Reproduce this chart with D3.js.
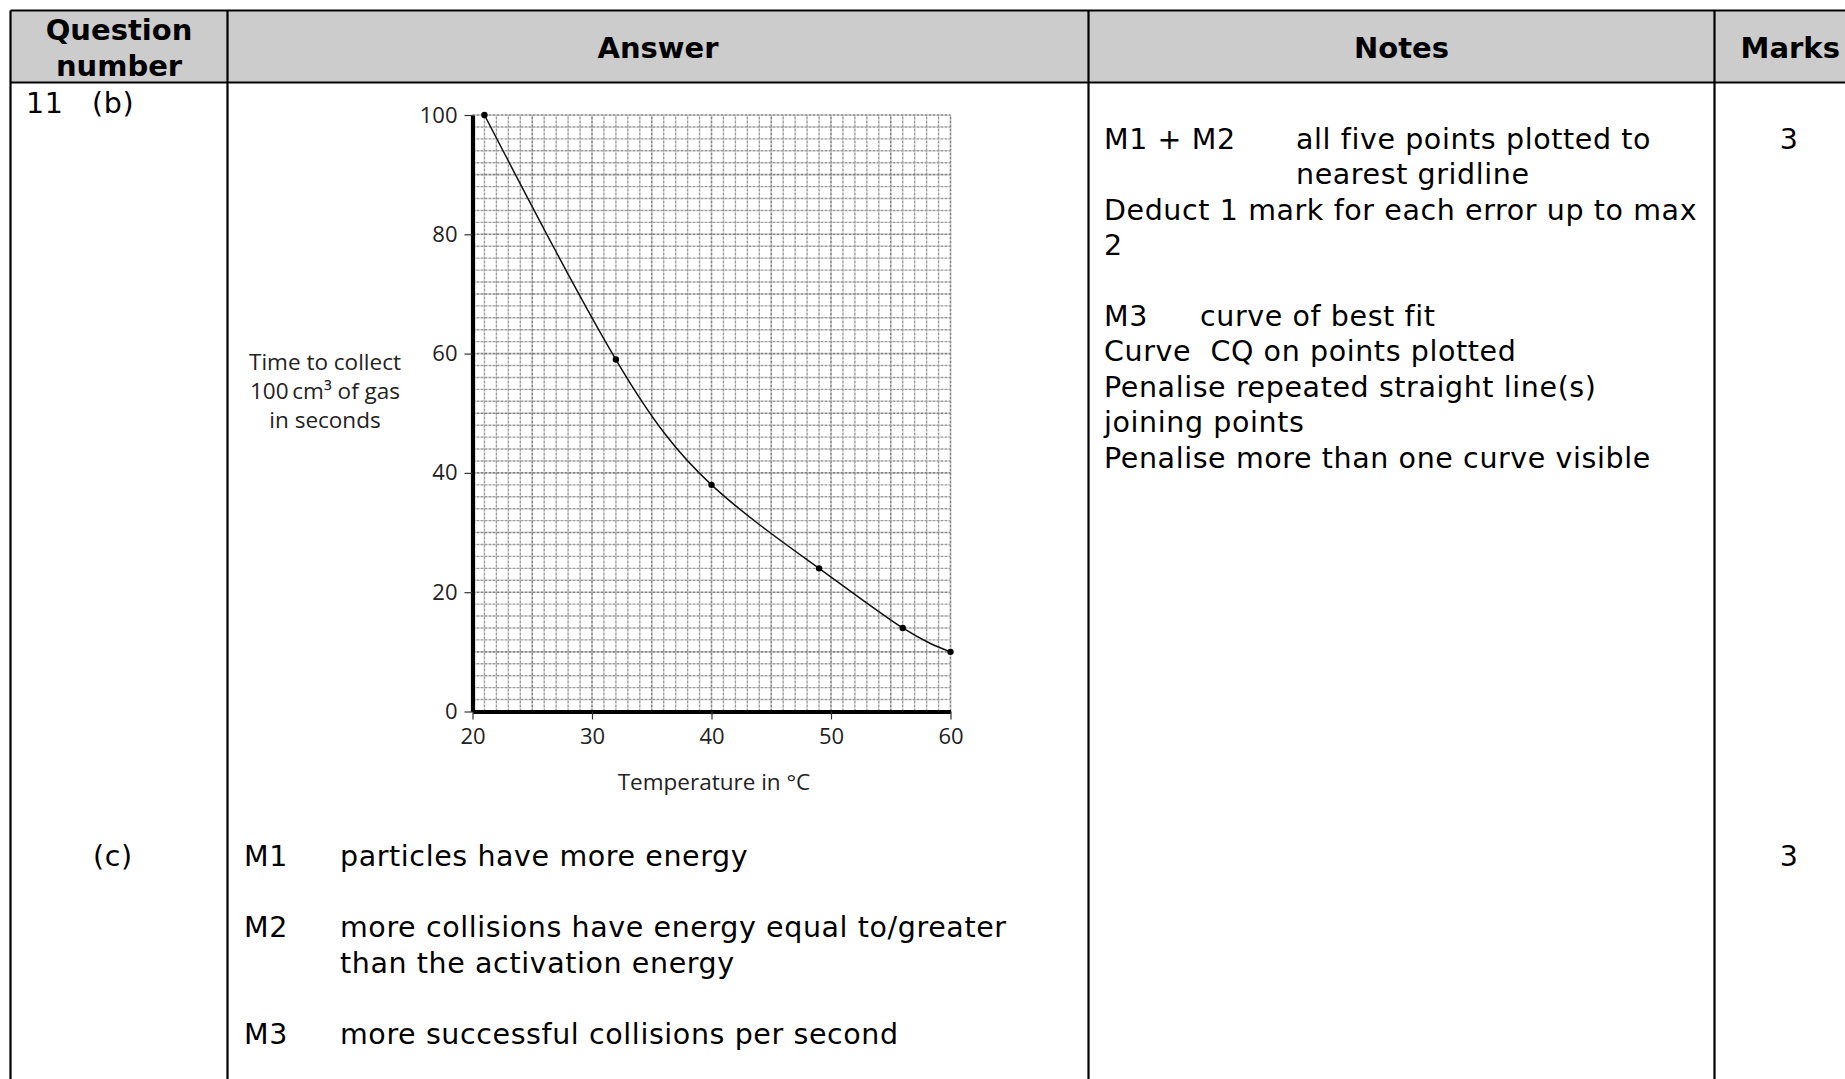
<!DOCTYPE html>
<html>
<head>
<meta charset="utf-8">
<script src="https://cdn.jsdelivr.net/npm/d3@7"></script>
<style>
  html, body { margin: 0; padding: 0; background: #fff; }
  svg { display: block; }
</style>
</head>
<body>
<script>
// ---------- DATA ----------
const temperatures = [21, 32, 40, 49, 56, 60];
const times = [100, 59, 38, 24, 14, 10];
const xTickValues = [20, 30, 40, 50, 60];
const yTickValues = [0, 20, 40, 60, 80, 100];
const xDomain = [20, 60];
const yDomain = [0, 100];
const yTitleLines = ["Time to collect", "100\u2009cm\u00B3 of gas", "in seconds"];
const xTitle = "Temperature in \u00B0C";

const headers = ["Answer", "Notes", "Marks"];
const questionHeader = ["Question", "number"];
const notesLines = [
  ["M1 + M2", "all five points plotted to"],
  ["", "nearest gridline"],
  ["Deduct 1 mark for each error up to max", ""],
  ["2", ""],
  ["", ""],
  ["M3", "curve of best fit"],
  ["Curve\u00A0 CQ on points plotted", ""],
  ["Penalise repeated straight line(s)", ""],
  ["joining points", ""],
  ["Penalise more than one curve visible", ""]
];
const partCLines = [
  ["M1", "particles have more energy"],
  ["M2", "more collisions have energy equal to/greater"],
  ["", "than the activation energy"],
  ["M3", "more successful collisions per second"]
];
const marks = ["3", "3"];

// ---------- LAYOUT ----------
const W = 1845, H = 1079;
const svg = d3.select("body").append("svg").attr("width", W).attr("height", H);
svg.append("rect").attr("width", W).attr("height", H).attr("fill", "#fff");

const colX = [10.5, 227.5, 1088.5, 1714.5, 1866];
const topY = 10.5, headY = 82.5, botY = 1100;
const bodyFont = "DejaVu Sans, Verdana, sans-serif";
const bodySize = 28.5;

// header fill
svg.append("rect").attr("x", colX[0]).attr("y", topY)
  .attr("width", colX[4] - colX[0]).attr("height", headY - topY)
  .attr("fill", "#cccccc");

// grid lines of table
const tbl = svg.append("g").attr("stroke", "#000").attr("stroke-width", 2.2);
tbl.append("line").attr("x1", colX[0]).attr("x2", colX[4]).attr("y1", topY).attr("y2", topY);
tbl.append("line").attr("x1", colX[0]).attr("x2", colX[4]).attr("y1", headY).attr("y2", headY);
colX.forEach(x => tbl.append("line").attr("x1", x).attr("x2", x).attr("y1", topY).attr("y2", botY));

// header text
const hdr = svg.append("g").attr("font-family", bodyFont).attr("font-weight", "bold")
  .attr("font-size", 29).attr("fill", "#000").attr("text-anchor", "middle");
hdr.append("text").attr("x", (colX[0] + colX[1]) / 2).attr("y", 39.5).text(questionHeader[0]);
hdr.append("text").attr("x", (colX[0] + colX[1]) / 2).attr("y", 75.5).text(questionHeader[1]);
headers.forEach((h, i) => {
  hdr.append("text").attr("x", (colX[i + 1] + colX[i + 2]) / 2).attr("y", 57.5).text(h);
});

const body = svg.append("g").attr("font-family", bodyFont).attr("font-size", bodySize)
  .attr("letter-spacing", 0.6).attr("fill", "#000");
// question numbers
body.append("text").attr("x", 26).attr("y", 113).text("11");
body.append("text").attr("x", 92).attr("y", 113).text("(b)");
body.append("text").attr("x", 93).attr("y", 866).text("(c)");

// notes
const notesX = 1104, notesX2 = 1296, lh = 35.4;
notesLines.forEach((l, i) => {
  const y = 149 + i * lh;
  if (l[0]) body.append("text").attr("x", notesX).attr("y", y).text(l[0]);
  if (l[1]) body.append("text").attr("x", l[0] === "M3" ? 1200 : notesX2).attr("y", y).text(l[1]);
});

// part c
const cY = [866, 937, 972.5, 1044];
partCLines.forEach((l, i) => {
  if (l[0]) body.append("text").attr("x", 244).attr("y", cY[i]).text(l[0]);
  body.append("text").attr("x", 340).attr("y", cY[i]).text(l[1]);
});

// marks
[149, 866].forEach((y, i) => body.append("text").attr("x", 1789).attr("y", y)
  .attr("text-anchor", "middle").text(marks[i]));

// ---------- CHART ----------
const x = d3.scaleLinear().domain(xDomain).range([472.5, 950.5]);
const y = d3.scaleLinear().domain(yDomain).range([711.5, 115]);
const chart = svg.append("g");

// graph paper grid
const grid = chart.append("g");
d3.range(xDomain[0], xDomain[1] + 0.001, 1).forEach(v => {
  const major = (v % 5 === 0);
  grid.append("line").attr("x1", x(v)).attr("x2", x(v)).attr("y1", y(0)).attr("y2", y(100))
    .attr("stroke", major ? "#858585" : "#9c9c9c").attr("stroke-width", major ? 1.6 : 1.4)
    .attr("stroke-dasharray", "3,1");
});
d3.range(yDomain[0], yDomain[1] + 0.001, 2).forEach(v => {
  const major = (v % 10 === 0);
  grid.append("line").attr("x1", x(20)).attr("x2", x(60)).attr("y1", y(v)).attr("y2", y(v))
    .attr("stroke", major ? "#858585" : "#9c9c9c").attr("stroke-width", major ? 1.6 : 1.4)
    .attr("stroke-dasharray", "3,1");
});

// axes
const tickFont = "Open Sans, Noto Sans, sans-serif";
const xAxis = chart.append("g").attr("transform", `translate(0,${y(0)})`)
  .call(d3.axisBottom(x).tickValues(xTickValues).tickSize(8).tickPadding(9).tickSizeOuter(0));
const yAxis = chart.append("g").attr("transform", `translate(${x(20)},0)`)
  .call(d3.axisLeft(y).tickValues(yTickValues).tickSize(8).tickPadding(7).tickSizeOuter(0));
[xAxis, yAxis].forEach(a => {
  a.select(".domain").attr("stroke", "#000").attr("stroke-width", 4.2);
  a.selectAll(".tick line").attr("stroke", "#333").attr("stroke-width", 1.2);
  a.selectAll(".tick text").attr("font-family", tickFont).attr("font-size", 22).attr("fill", "#222");
});

// curve of best fit
const pts = temperatures.map((t, i) => [t, times[i]]);
chart.append("path").datum(pts)
  .attr("d", d3.line().x(d => x(d[0])).y(d => y(d[1])).curve(d3.curveNatural))
  .attr("fill", "none").attr("stroke", "#111").attr("stroke-width", 1.5);
chart.selectAll("circle.pt").data(pts).enter().append("circle")
  .attr("class", "pt").attr("cx", d => x(d[0])).attr("cy", d => y(d[1])).attr("r", 3.2)
  .attr("fill", "#000");

// titles
const yt = chart.append("g").attr("font-family", tickFont).attr("font-size", 22.5)
  .attr("fill", "#222").attr("text-anchor", "middle");
yTitleLines.forEach((t, i) => yt.append("text").attr("x", 325).attr("y", 370 + i * 29).text(t));
chart.append("text").attr("x", 714).attr("y", 790).attr("text-anchor", "middle")
  .attr("font-family", tickFont).attr("font-size", 22.5).attr("fill", "#222").text(xTitle);
</script>
</body>
</html>
